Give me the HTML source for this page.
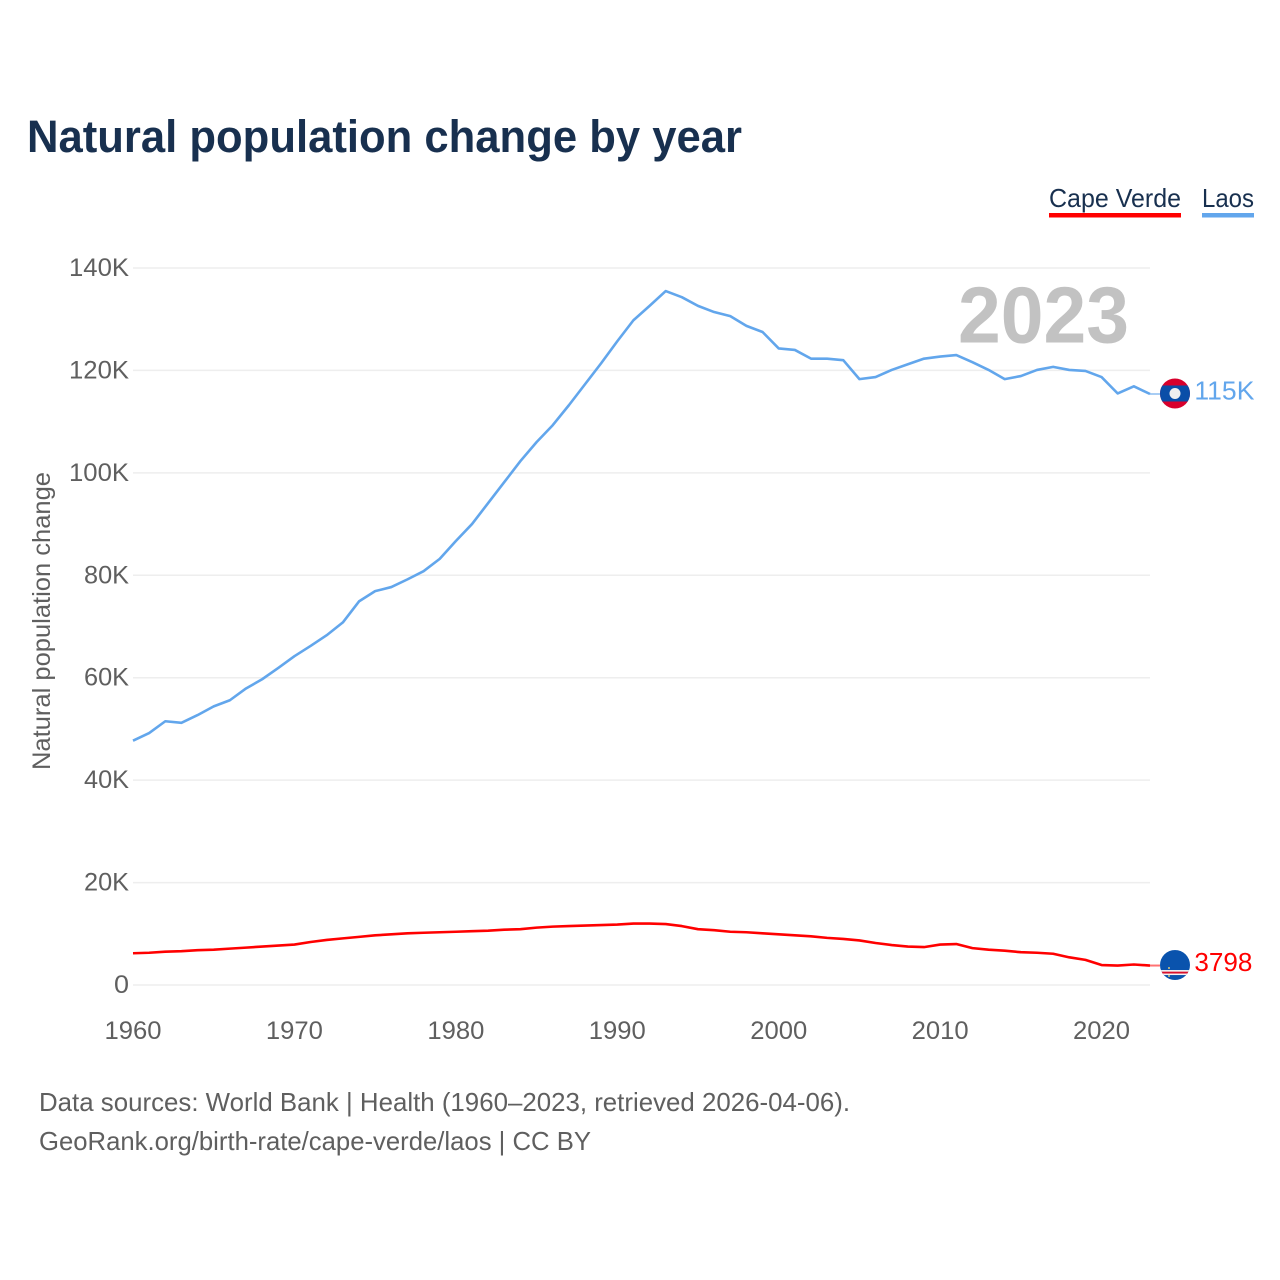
<!DOCTYPE html>
<html lang="en">
<head>
<meta charset="utf-8">
<title>Natural population change by year</title>
<style>
html,body{margin:0;padding:0;background:#fff;width:1280px;height:1280px;overflow:hidden}
svg{display:block;font-family:"Liberation Sans",Arial,sans-serif}
</style>
</head>
<body>
<svg id="chart" xmlns="http://www.w3.org/2000/svg" width="1280" height="1280" viewBox="0 0 1280 1280">
  <defs>
    <clipPath id="laos-clip"><circle cx="0" cy="0" r="15"/></clipPath>
    <clipPath id="cv-clip"><circle cx="0" cy="0" r="15"/></clipPath>
  </defs>
  <rect width="1280" height="1280" fill="#fff"/>
  <text x="27" y="152" font-size="45" font-weight="700" fill="#18304f" textLength="715" lengthAdjust="spacingAndGlyphs">Natural population change by year</text>

  <g>
    <g>
      <text x="1049" y="207" font-size="26" fill="#18304f" textLength="132" lengthAdjust="spacingAndGlyphs">Cape Verde</text>
      <rect x="1049" y="213" width="132" height="4.5" fill="#ff0000"/>
    </g>
    <g>
      <text x="1202" y="207" font-size="26" fill="#18304f" textLength="52" lengthAdjust="spacingAndGlyphs">Laos</text>
      <rect x="1202" y="213" width="52" height="4.5" fill="#62a6ec"/>
    </g>
  </g>

  <g id="grid"></g>
  <g id="y-ticks"></g>
  <g id="x-ticks"></g>

  <text transform="translate(50,621) rotate(-90)" text-anchor="middle" font-size="25" fill="#5f5f5f" textLength="298" lengthAdjust="spacingAndGlyphs">Natural population change</text>

  <text x="958" y="342.5" font-size="80" font-weight="700" fill="#c2c2c2" textLength="171" lengthAdjust="spacingAndGlyphs">2023</text>

  <g id="series"></g>

  <g id="flag-laos">
    <g clip-path="url(#laos-clip)">
      <rect x="-15" y="-15" width="30" height="30" fill="#d8002c"/>
      <rect x="-15" y="-8" width="30" height="16" fill="#0a4ea8"/>
      <circle cx="0" cy="0" r="5.5" fill="#f0f0f0"/>
    </g>
  </g>
  <g id="flag-cape-verde">
    <g clip-path="url(#cv-clip)">
      <rect x="-15" y="-15" width="30" height="30" fill="#0a53ad"/>
      <rect x="-15" y="5" width="30" height="5" fill="#f4f4f4"/>
      <rect x="-15" y="6.6" width="30" height="1.9" fill="#d8102c"/>
      <circle cx="-6" cy="3" r="1" fill="#d9c77a"/>
      <circle cx="-6" cy="11" r="1" fill="#d9c77a"/>
    </g>
  </g>
  <text id="end-laos" font-size="26" fill="#62a6ec" textLength="60" lengthAdjust="spacingAndGlyphs">115K</text>
  <text id="end-cape-verde" font-size="26" fill="#ff0000" textLength="58" lengthAdjust="spacingAndGlyphs">3798</text>

  <g>
    <text x="39" y="1111" font-size="26" fill="#5f5f5f" textLength="811" lengthAdjust="spacingAndGlyphs">Data sources: World Bank | Health (1960–2023, retrieved 2026-04-06).</text>
    <text x="39" y="1150" font-size="26" fill="#5f5f5f" textLength="552" lengthAdjust="spacingAndGlyphs">GeoRank.org/birth-rate/cape-verde/laos | CC BY</text>
  </g>
</svg>
<script>
const startYear = 1960;
const xTickYears = [1960, 1970, 1980, 1990, 2000, 2010, 2020];
const yTickValues = [0, 20000, 40000, 60000, 80000, 100000, 120000, 140000];
const yTickLabels = ["0", "20K", "40K", "60K", "80K", "100K", "120K", "140K"];
const laosValues = [47.7,49.2,51.5,51.2,52.7,54.4,55.6,57.9,59.7,61.9,64.2,66.2,68.3,70.8,74.9,76.9,77.7,79.2,80.8,83.2,86.7,90.0,94.1,98.2,102.3,106.0,109.3,113.2,117.3,121.4,125.7,129.8,132.6,135.5,134.3,132.6,131.4,130.6,128.7,127.5,124.3,124.0,122.3,122.3,122.0,118.3,118.7,120.1,121.2,122.3,122.7,123.0,121.6,120.1,118.3,118.9,120.1,120.7,120.1,119.9,118.7,115.5,116.9,115.4];
const capeVerdeValues = [6.2,6.3,6.5,6.6,6.8,6.9,7.1,7.3,7.5,7.7,7.9,8.4,8.8,9.1,9.4,9.7,9.9,10.1,10.2,10.3,10.4,10.5,10.6,10.8,10.9,11.2,11.4,11.5,11.6,11.7,11.8,12.0,12.0,11.9,11.5,10.9,10.7,10.4,10.3,10.1,9.9,9.7,9.5,9.2,9.0,8.7,8.2,7.8,7.5,7.4,7.9,8.0,7.2,6.9,6.7,6.4,6.3,6.1,5.4,4.9,3.9,3.8,4.0,3.8];

const NS = 'http://www.w3.org/2000/svg';
const plotLeft = 133, plotRight = 1150, plotBottom = 985, plotTop = 268;
const xScale = year => plotLeft + (year - 1960) * (plotRight - plotLeft) / 63;
const yScale = value => plotBottom - value * (plotBottom - plotTop) / 140000;

function make(tag, attrs, parent) {
  const el = document.createElementNS(NS, tag);
  for (const k in attrs) el.setAttribute(k, attrs[k]);
  parent.appendChild(el);
  return el;
}

const grid = document.getElementById('grid');
const yTicks = document.getElementById('y-ticks');
const xTicks = document.getElementById('x-ticks');
const series = document.getElementById('series');

yTickValues.forEach((v, i) => {
  const line = make('line', {x1: plotLeft, x2: plotRight, y1: yScale(v), y2: yScale(v), stroke: '#eeeeee', 'stroke-width': 1.5}, grid);
  
  
  const label = yTickLabels[i];
  const t = make('text', {x: 129, y: yScale(v) + 8, 'text-anchor': 'end', 'font-size': 25, fill: '#5f5f5f', textLength: label.length * 15, lengthAdjust: 'spacingAndGlyphs'}, yTicks);
  
  
  t.textContent = label;
});

xTickYears.forEach(year => {
  const t = make('text', {x: xScale(year), y: 1039, 'text-anchor': 'middle', 'font-size': 25, fill: '#5f5f5f', textLength: 57, lengthAdjust: 'spacingAndGlyphs'}, xTicks);
  
  
  t.textContent = year;
});

function drawSeries(values, color, flagId, labelId, lineName, connectorName) {
  const pts = values.map((v, i) => xScale(startYear + i).toFixed(2) + ',' + yScale(v * 1000).toFixed(2)).join(' ');
  const line = make('polyline', {points: pts, fill: 'none', stroke: color, 'stroke-width': 2.6, 'stroke-linejoin': 'round'}, series);
  
  
  const lastY = yScale(values[values.length - 1] * 1000);
  const lastX = xScale(startYear + values.length - 1);
  const conn = make('line', {x1: lastX, x2: lastX + 10, y1: lastY, y2: lastY, stroke: color, 'stroke-width': 2, opacity: 0.55}, series);
  
  
  document.getElementById(flagId).setAttribute('transform', 'translate(' + (lastX + 25) + ',' + (lastY - 0.5) + ')');
  const lab = document.getElementById(labelId);
  lab.setAttribute('x', lastX + 44.4);
  lab.setAttribute('y', lastY + 5.5);
}

drawSeries(laosValues, '#62a6ec', 'flag-laos', 'end-laos', 'line-laos', 'connector-laos');
drawSeries(capeVerdeValues, '#ff0000', 'flag-cape-verde', 'end-cape-verde', 'line-cape-verde', 'connector-cape-verde');
</script>
</body>
</html>
